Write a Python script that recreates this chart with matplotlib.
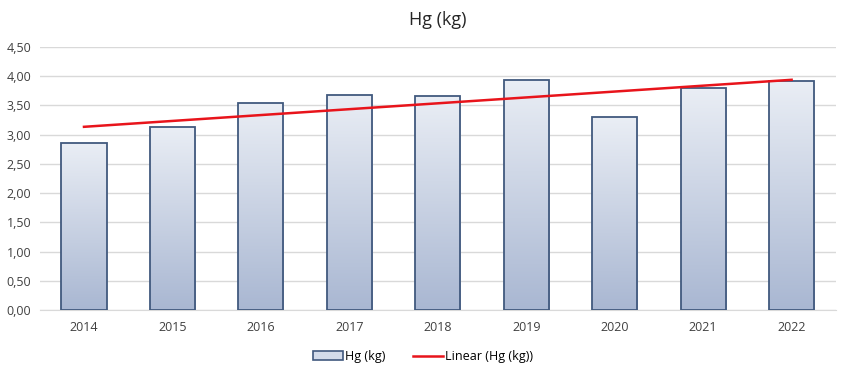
import matplotlib.pyplot as plt
import numpy as np
from matplotlib.ticker import FuncFormatter
from matplotlib.patches import Patch
from matplotlib.lines import Line2D
from matplotlib.colors import LinearSegmentedColormap

years = ['2014', '2015', '2016', '2017', '2018', '2019', '2020', '2021', '2022']
hg = [2.86, 3.13, 3.54, 3.68, 3.66, 3.94, 3.30, 3.80, 3.92]

plt.rcParams['font.family'] = ['Open Sans', 'DejaVu Sans']

fig = plt.figure(figsize=(8.46, 3.67), dpi=100)
ax = fig.add_axes([0.047, 0.155, 0.941, 0.717])

x = np.arange(len(years))
bars = ax.bar(x, hg, width=0.51, color='none', edgecolor='#41597E',
              linewidth=1.3, zorder=3)

# vertical gradient inside each bar
grad = np.linspace(0, 1, 256).reshape(-1, 1)
cmap = LinearSegmentedColormap.from_list('barg', ['#A9B7D2', '#EAEEF5'])
for b in bars:
    bx, by = b.get_x(), b.get_y()
    w, h = b.get_width(), b.get_height()
    im = ax.imshow(grad, extent=[bx, bx + w, by, by + h], origin='lower',
                   cmap=cmap, aspect='auto', zorder=2)
    im.set_clip_path(b)

# linear trend
k, c = np.polyfit(x, hg, 1)
ax.plot(x, k * x + c, color='#E8141B', lw=1.8, zorder=4)

ax.set_xlim(-0.5, len(years) - 0.5)
ax.set_ylim(0, 4.5)
ax.set_yticks(np.arange(0, 4.51, 0.5))
ax.yaxis.set_major_formatter(FuncFormatter(lambda v, p: f'{v:.2f}'.replace('.', ',')))
ax.set_xticks(x)
ax.set_xticklabels(years)
ax.grid(axis='y', color='#D9D9D9', lw=1, zorder=0)
ax.set_axisbelow(True)
for s in ['top', 'right', 'left']:
    ax.spines[s].set_visible(False)
ax.spines['bottom'].set_color('#D9D9D9')
ax.tick_params(axis='both', length=0, labelsize=9, colors='#404040')
ax.tick_params(axis='x', pad=8)
ax.tick_params(axis='y', pad=6)

ax.set_title('Hg (kg)', fontsize=13, color='#262626', pad=16)

handles = [Patch(facecolor='#D3DBEA', edgecolor='#41597E', lw=1.2),
           Line2D([0], [0], color='#E8141B', lw=1.8)]
fig.legend(handles, ['Hg (kg)', 'Linear (Hg (kg))'], loc='lower center',
           bbox_to_anchor=(0.5, -0.02), ncol=2, frameon=False, fontsize=9,
           handlelength=2.4, handletextpad=0.2, columnspacing=2.2)

fig.savefig('out.png', dpi=100)
